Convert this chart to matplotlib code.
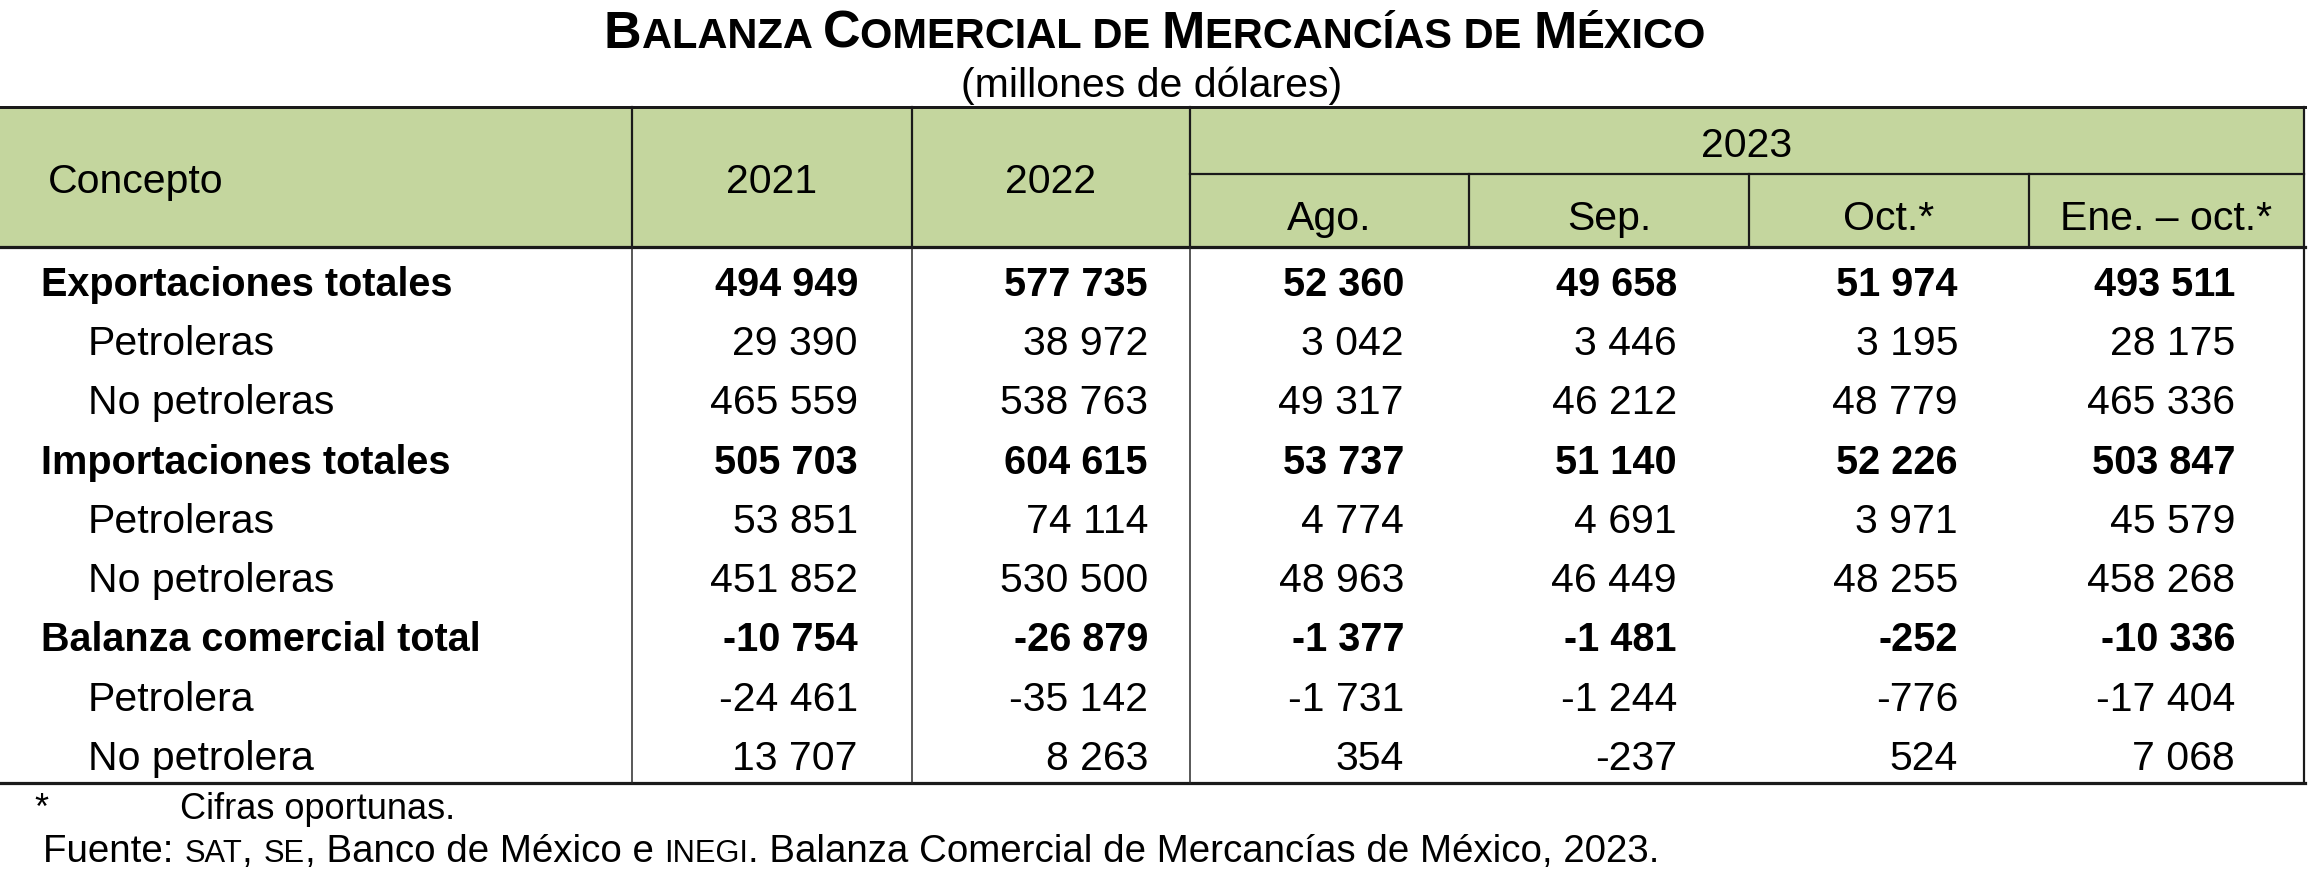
import matplotlib
matplotlib.use('Agg')
import matplotlib.pyplot as plt
from matplotlib.patches import Rectangle

# ---- Datos de la tabla (millones de dolares) ----
conceptos = ['Exportaciones totales', 'Petroleras', 'No petroleras',
             'Importaciones totales', 'Petroleras', 'No petroleras',
             'Balanza comercial total', 'Petrolera', 'No petrolera']
fila_negrita = [True, False, False, True, False, False, True, False, False]

columnas = ['2021', '2022', 'Ago.', 'Sep.', 'Oct.*', 'Ene. – oct.*']
anio_2021 = [494949, 29390, 465559, 505703, 53851, 451852, -10754, -24461, 13707]
anio_2022 = [577735, 38972, 538763, 604615, 74114, 530500, -26879, -35142, 8263]
ago_2023 = [52360, 3042, 49317, 53737, 4774, 48963, -1377, -1731, 354]
sep_2023 = [49658, 3446, 46212, 51140, 4691, 46449, -1481, -1244, -237]
oct_2023 = [51974, 3195, 48779, 52226, 3971, 48255, -252, -776, 524]
ene_oct_2023 = [493511, 28175, 465336, 503847, 45579, 458268, -10336, -17404, 7068]
valores = [anio_2021, anio_2022, ago_2023, sep_2023, oct_2023, ene_oct_2023]

titulo = [('B', 'g'), ('ALANZA ', 'p'), ('C', 'g'), ('OMERCIAL DE ', 'p'),
          ('M', 'g'), ('ERCANCÍAS DE ', 'p'), ('M', 'g'), ('ÉXICO', 'p')]
subtitulo = '(millones de dólares)'
nota = 'Cifras oportunas.'
fuente_txt = [('Fuente: ', 'n'), ('SAT', 'p'), (', ', 'n'), ('SE', 'p'),
              (', Banco de México e ', 'n'), ('INEGI', 'p'),
              ('. Balanza Comercial de Mercancías de México, 2023.', 'n')]


def formato(v):
    s = f'{abs(v):,}'.replace(',', ' ')
    return ('-' if v < 0 else '') + s


# ---- Figura en coordenadas de pixel ----
W, H = 2310, 870
fig = plt.figure(figsize=(W / 100, H / 100), dpi=100)
ax = fig.add_axes([0, 0, 1, 1])
ax.set_xlim(0, W)
ax.set_ylim(H, 0)
ax.axis('off')
renderer = fig.canvas.get_renderer()

familia = 'Liberation Sans'
verde = '#C4D69E'
negro = '#1a1a1a'
px = 0.72  # 1 px en puntos

t_reg = 29.5
t_neg = 28.5


def ancho(txt, size, weight):
    t = ax.text(0, 0, '|' + txt + '|', fontsize=size, fontweight=weight, family=familia)
    w1 = t.get_window_extent(renderer).width
    t.set_text('||')
    w2 = t.get_window_extent(renderer).width
    t.remove()
    return w1 - w2


def texto_versalitas(x, y, partes, tamanos, weight, centrado=False):
    anchos = [ancho(p, tamanos[k], weight) for p, k in partes]
    if centrado:
        x = x - sum(anchos) / 2
    for (p, k), w in zip(partes, anchos):
        ax.text(x, y, p, fontsize=tamanos[k], fontweight=weight, family=familia,
                ha='left', va='baseline')
        x += w


# Titulo y subtitulo
texto_versalitas(1155, 48, titulo, {'g': 37.5, 'p': 30}, 'bold', centrado=True)
ax.text(1152, 97, subtitulo, fontsize=t_reg, family=familia, ha='center', va='baseline')

# ---- Estructura de la tabla ----
x_bordes = [632, 912, 1190, 1469, 1749, 2029, 2304]
y_top, y_sub, y_head, y_bottom = 107.5, 175, 247.5, 783.5

ax.add_patch(Rectangle((0, y_top), x_bordes[-1], y_head - y_top,
                       facecolor=verde, edgecolor='none', zorder=0))

ax.plot([0, x_bordes[-1] + 1], [y_top, y_top], color=negro, lw=3 * px)
ax.plot([0, x_bordes[-1] + 1], [y_head, y_head], color=negro, lw=3.2 * px)
ax.plot([0, x_bordes[-1] + 1], [y_bottom, y_bottom], color=negro, lw=3.2 * px)
ax.plot([x_bordes[2], x_bordes[-1]], [y_sub, y_sub], color=negro, lw=2.2 * px)

for xb in x_bordes[:3]:
    ax.plot([xb, xb], [y_top, y_head], color=negro, lw=2.2 * px)
    ax.plot([xb, xb], [y_head, y_bottom], color='#262626', lw=1.5 * px)
for xb in x_bordes[3:6]:
    ax.plot([xb, xb], [y_sub, y_head], color=negro, lw=2.2 * px)
ax.plot([x_bordes[-1], x_bordes[-1]], [y_top, y_bottom], color=negro, lw=2.2 * px)

# Encabezados
ax.text(48, 193, 'Concepto', fontsize=t_reg, family=familia, ha='left', va='baseline')
for i in range(2):
    xc = (x_bordes[i] + x_bordes[i + 1]) / 2
    ax.text(xc, 193, columnas[i], fontsize=t_reg, family=familia, ha='center', va='baseline')
ax.text((x_bordes[2] + x_bordes[-1]) / 2, 157, '2023', fontsize=t_reg, family=familia,
        ha='center', va='baseline')
for i in range(2, 6):
    xc = (x_bordes[i] + x_bordes[i + 1]) / 2
    ax.text(xc, 230, columnas[i], fontsize=t_reg, family=familia, ha='center', va='baseline')

# Filas de datos
x_derecha = [858, 1148, 1404, 1677, 1958, 2235]
for i, concepto in enumerate(conceptos):
    yb = 296 + i * 59.25
    if fila_negrita[i]:
        ax.text(41, yb, concepto, fontsize=t_neg, fontweight='bold', family=familia,
                ha='left', va='baseline')
    else:
        ax.text(88, yb, concepto, fontsize=t_reg, family=familia, ha='left', va='baseline')
    for j, serie in enumerate(valores):
        ax.text(x_derecha[j], yb, formato(serie[i]),
                fontsize=t_neg if fila_negrita[i] else t_reg,
                fontweight='bold' if fila_negrita[i] else 'normal',
                family=familia, ha='right', va='baseline')

# Notas
ax.text(34, 819, '*', fontsize=26, family=familia, ha='left', va='baseline')
ax.text(180, 819, nota, fontsize=26, family=familia, ha='left', va='baseline')
texto_versalitas(43, 862, fuente_txt, {'n': 27.7, 'p': 22.2}, 'normal')

fig.savefig('out.png', dpi=100)
